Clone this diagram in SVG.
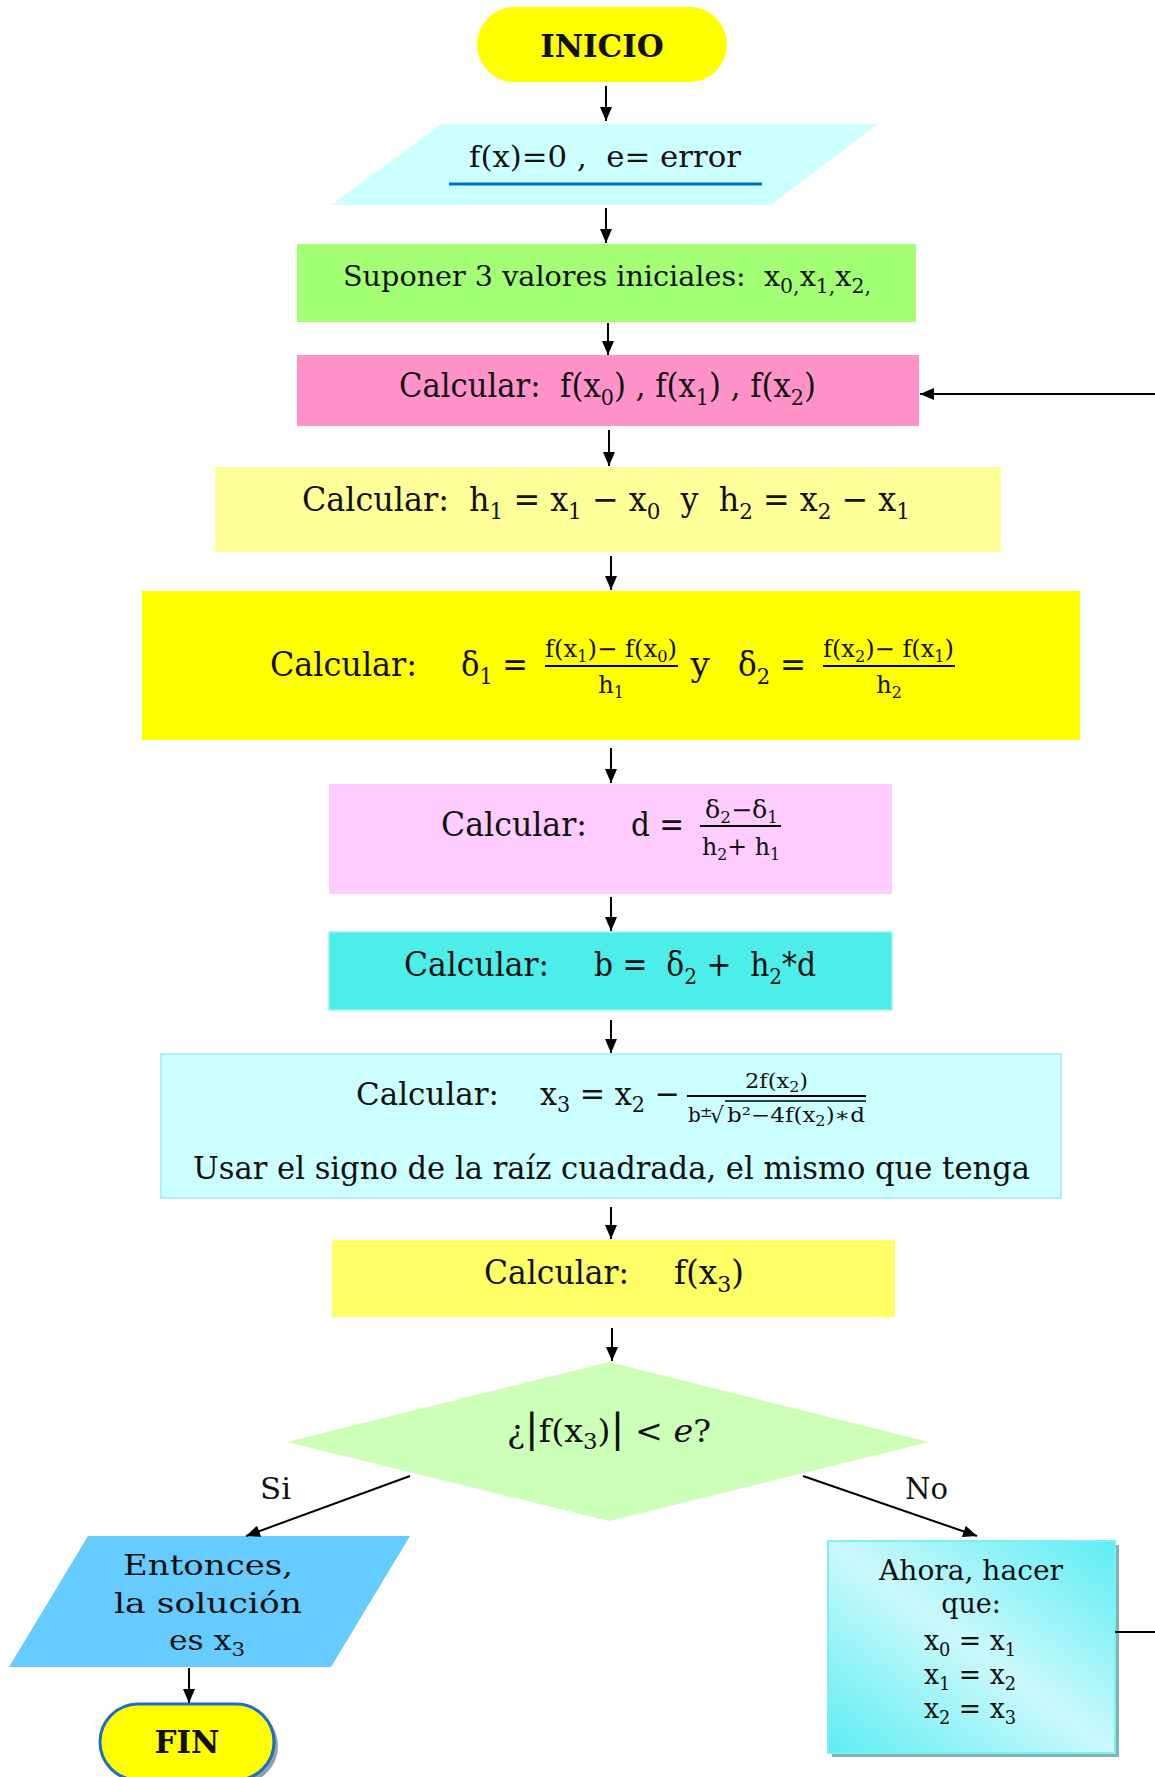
<svg xmlns="http://www.w3.org/2000/svg" width="1155" height="1777" viewBox="0 0 1155 1777">
<style>
.t{font-family:"DejaVu Serif","Liberation Serif",serif;fill:#111;}
.b{font-weight:bold;}
.conn path{stroke:#000;stroke-width:2;fill:none;marker-end:url(#ah);}
.fl{stroke:#000;stroke-width:2;}
</style>
<defs>
<marker id="ah" viewBox="0 0 14 12" refX="14" refY="6" markerWidth="14" markerHeight="12" orient="auto" markerUnits="userSpaceOnUse"><path d="M0,0 L14,6 L0,12 z" fill="#000"/></marker>
<linearGradient id="gA" x1="0" y1="1" x2="1" y2="0"><stop offset="0" stop-color="#5cedf3"/><stop offset="0.5" stop-color="#cbf9fb"/><stop offset="1" stop-color="#5cedf3"/></linearGradient>
</defs>
<rect width="1155" height="1777" fill="#fff"/>

<g id="inicio">
<rect x="477" y="7" width="250" height="75" rx="37.5" fill="#ffff00"/>
<text class="t b" x="602" y="57" font-size="31" text-anchor="middle">INICIO</text>
</g>

<g id="entrada">
<polygon points="442,124 878,124 771,205 331,205" fill="#ccffff"/>
<text class="t" x="469" y="167" font-size="30" textLength="272" lengthAdjust="spacingAndGlyphs">f(x)=0 ,&#160; e= error</text>
<line x1="449" y1="184" x2="762" y2="184" stroke="#0070c0" stroke-width="3"/>
</g>

<g id="suponer">
<rect x="297" y="244" width="619" height="78" fill="#a3ff73"/>
<text class="t" x="343" y="286" font-size="28" textLength="528" lengthAdjust="spacingAndGlyphs">Suponer 3 valores iniciales:&#160; x<tspan dy="7" font-size="20">0,</tspan><tspan dy="-7">x</tspan><tspan dy="7" font-size="20">1,</tspan><tspan dy="-7">x</tspan><tspan dy="7" font-size="20">2,</tspan></text>
</g>

<g id="calc-f">
<rect x="297" y="355" width="622" height="71" fill="#ff93c9"/>
<text class="t" x="399" y="397" font-size="34" textLength="417" lengthAdjust="spacingAndGlyphs">Calcular:&#160; f(x<tspan dy="8" font-size="23">0</tspan><tspan dy="-8">) , f(x</tspan><tspan dy="8" font-size="23">1</tspan><tspan dy="-8">) , f(x</tspan><tspan dy="8" font-size="23">2</tspan><tspan dy="-8">)</tspan></text>
</g>

<g id="calc-h">
<rect x="215" y="467" width="786" height="85" fill="#ffff99"/>
<text class="t" x="302" y="511" font-size="34" textLength="608" lengthAdjust="spacingAndGlyphs">Calcular:&#160; h<tspan dy="8" font-size="23">1</tspan><tspan dy="-8"> = x</tspan><tspan dy="8" font-size="23">1</tspan><tspan dy="-8"> − x</tspan><tspan dy="8" font-size="23">0</tspan><tspan dy="-8">&#160; y&#160; h</tspan><tspan dy="8" font-size="23">2</tspan><tspan dy="-8"> = x</tspan><tspan dy="8" font-size="23">2</tspan><tspan dy="-8"> − x</tspan><tspan dy="8" font-size="23">1</tspan></text>
</g>

<g id="calc-delta">
<rect x="142" y="591" width="938" height="149" fill="#ffff00"/>
<text class="t" x="270" y="676" font-size="34" textLength="147" lengthAdjust="spacingAndGlyphs">Calcular:</text>
<text class="t" x="461" y="676" font-size="34" textLength="67" lengthAdjust="spacingAndGlyphs">δ<tspan dy="8" font-size="23">1</tspan><tspan dy="-8"> =</tspan></text>
<text class="t" x="545" y="657" font-size="24" textLength="132" lengthAdjust="spacingAndGlyphs">f(x<tspan dy="5" font-size="16">1</tspan><tspan dy="-5">)− f(x</tspan><tspan dy="5" font-size="16">0</tspan><tspan dy="-5">)</tspan></text>
<line class="fl" x1="545" y1="666" x2="678" y2="666"/>
<text class="t" x="611" y="693" font-size="24" text-anchor="middle">h<tspan dy="5" font-size="16">1</tspan></text>
<text class="t" x="700" y="676" font-size="34" text-anchor="middle">y</text>
<text class="t" x="738" y="676" font-size="34" textLength="68" lengthAdjust="spacingAndGlyphs">δ<tspan dy="8" font-size="23">2</tspan><tspan dy="-8"> =</tspan></text>
<text class="t" x="823" y="657" font-size="24" textLength="131" lengthAdjust="spacingAndGlyphs">f(x<tspan dy="5" font-size="16">2</tspan><tspan dy="-5">)− f(x</tspan><tspan dy="5" font-size="16">1</tspan><tspan dy="-5">)</tspan></text>
<line class="fl" x1="823" y1="666" x2="955" y2="666"/>
<text class="t" x="889" y="693" font-size="24" text-anchor="middle">h<tspan dy="5" font-size="16">2</tspan></text>
</g>

<g id="calc-d">
<rect x="329" y="784" width="563" height="110" fill="#ffccff"/>
<text class="t" x="441" y="836" font-size="34" textLength="146" lengthAdjust="spacingAndGlyphs">Calcular:</text>
<text class="t" x="631" y="836" font-size="34" textLength="53" lengthAdjust="spacingAndGlyphs">d =</text>
<text class="t" x="705" y="818" font-size="24" textLength="73" lengthAdjust="spacingAndGlyphs">δ<tspan dy="5" font-size="16">2</tspan><tspan dy="-5">−δ</tspan><tspan dy="5" font-size="16">1</tspan></text>
<line class="fl" x1="700" y1="826" x2="781" y2="826"/>
<text class="t" x="702" y="855" font-size="24" textLength="78" lengthAdjust="spacingAndGlyphs">h<tspan dy="5" font-size="16">2</tspan><tspan dy="-5">+ h</tspan><tspan dy="5" font-size="16">1</tspan></text>
</g>

<g id="calc-b">
<rect x="329" y="932" width="563" height="78" fill="#4deeea" stroke="#9ff2f5" stroke-width="1.5"/>
<text class="t" x="404" y="976" font-size="34" textLength="145" lengthAdjust="spacingAndGlyphs">Calcular:</text>
<text class="t" x="594" y="976" font-size="34" textLength="222" lengthAdjust="spacingAndGlyphs">b =&#160; δ<tspan dy="8" font-size="23">2</tspan><tspan dy="-8"> +&#160; h</tspan><tspan dy="8" font-size="23">2</tspan><tspan dy="-8">*d</tspan></text>
</g>

<g id="calc-x3">
<rect x="161" y="1054" width="900" height="144" fill="#ccffff" stroke="#b5eef8" stroke-width="2"/>
<text class="t" x="356" y="1105" font-size="32" textLength="143" lengthAdjust="spacingAndGlyphs">Calcular:</text>
<text class="t" x="540" y="1105" font-size="32" textLength="140" lengthAdjust="spacingAndGlyphs">x<tspan dy="7" font-size="22">3</tspan><tspan dy="-7"> = x</tspan><tspan dy="7" font-size="22">2</tspan><tspan dy="-7"> −</tspan></text>
<text class="t" x="745" y="1088" font-size="20" textLength="63" lengthAdjust="spacingAndGlyphs">2f(x<tspan dy="4" font-size="14">2</tspan><tspan dy="-4">)</tspan></text>
<line class="fl" x1="687" y1="1096" x2="866" y2="1096"/>
<text class="t" x="688" y="1122" font-size="20">b</text>
<text class="t" x="700" y="1117" font-size="15">±</text>
<text class="t" x="710" y="1123" font-size="22">√</text>
<line x1="725" y1="1101" x2="866" y2="1101" stroke="#000" stroke-width="1.5"/>
<text class="t" x="727" y="1122" font-size="20" textLength="138" lengthAdjust="spacingAndGlyphs">b²−4f(x<tspan dy="4" font-size="14">2</tspan><tspan dy="-4">)∗d</tspan></text>
<text class="t" x="193" y="1179" font-size="32" textLength="837" lengthAdjust="spacingAndGlyphs">Usar el signo de la raíz cuadrada, el mismo que tenga</text>
</g>

<g id="calc-fx3">
<rect x="332" y="1240" width="563" height="77" fill="#ffff66"/>
<text class="t" x="484" y="1284" font-size="34" textLength="145" lengthAdjust="spacingAndGlyphs">Calcular:</text>
<text class="t" x="674" y="1284" font-size="34" textLength="70" lengthAdjust="spacingAndGlyphs">f(x<tspan dy="8" font-size="23">3</tspan><tspan dy="-8">)</tspan></text>
</g>

<g id="decision">
<polygon points="609,1362 929,1442 609,1521 287,1442" fill="#ccffb8"/>
<text class="t" x="507" y="1442" font-size="32" textLength="204" lengthAdjust="spacingAndGlyphs">¿<tspan font-size="40">|</tspan>f(x<tspan dy="7" font-size="22">3</tspan><tspan dy="-7">)</tspan><tspan font-size="40">|</tspan> &lt; <tspan font-style="italic">e</tspan>?</text>
<text class="t" x="260" y="1499" font-size="30" textLength="31" lengthAdjust="spacingAndGlyphs">Si</text>
<text class="t" x="905" y="1499" font-size="30" textLength="43" lengthAdjust="spacingAndGlyphs">No</text>
</g>

<g id="solucion">
<polygon points="88,1536 410,1536 331,1667 9,1667" fill="#66ccff"/>
<text class="t" x="123" y="1575" font-size="28" textLength="170" lengthAdjust="spacingAndGlyphs">Entonces,</text>
<text class="t" x="114" y="1613" font-size="28" textLength="188" lengthAdjust="spacingAndGlyphs">la solución</text>
<text class="t" x="169" y="1650" font-size="28" textLength="76" lengthAdjust="spacingAndGlyphs">es x<tspan dy="6" font-size="19">3</tspan></text>
</g>

<g id="fin">
<rect x="104" y="1708" width="174" height="76" rx="38" fill="#8fa3a8"/>
<rect x="100" y="1704" width="174" height="76" rx="38" fill="#ffff00" stroke="#1e6ec8" stroke-width="3"/>
<text class="t b" x="187" y="1753" font-size="31" text-anchor="middle">FIN</text>
</g>

<g id="actualizar">
<rect x="832" y="1545" width="287" height="212" fill="#7fb3b5"/>
<rect x="828" y="1541" width="287" height="212" fill="url(#gA)" stroke="#7eeef4" stroke-width="2"/>
<text class="t" x="879" y="1580" font-size="27" textLength="184" lengthAdjust="spacingAndGlyphs">Ahora, hacer</text>
<text class="t" x="971" y="1613" font-size="27" text-anchor="middle">que:</text>
<text class="t" x="924" y="1650" font-size="27" textLength="92" lengthAdjust="spacingAndGlyphs">x<tspan dy="6" font-size="18">0</tspan><tspan dy="-6"> = x</tspan><tspan dy="6" font-size="18">1</tspan></text>
<text class="t" x="924" y="1684" font-size="27" textLength="92" lengthAdjust="spacingAndGlyphs">x<tspan dy="6" font-size="18">1</tspan><tspan dy="-6"> = x</tspan><tspan dy="6" font-size="18">2</tspan></text>
<text class="t" x="924" y="1718" font-size="27" textLength="92" lengthAdjust="spacingAndGlyphs">x<tspan dy="6" font-size="18">2</tspan><tspan dy="-6"> = x</tspan><tspan dy="6" font-size="18">3</tspan></text>
</g>

<g id="connectors" class="conn">
<path d="M606,86 V121"/>
<path d="M606,208 V243"/>
<path d="M608,323 V355"/>
<path d="M609,430 V466"/>
<path d="M611,556 V590"/>
<path d="M611,748 V783"/>
<path d="M611,897 V931"/>
<path d="M611,1020 V1053"/>
<path d="M611,1207 V1239"/>
<path d="M612,1328 V1361"/>
<path d="M410,1476 L246,1536"/>
<path d="M803,1476 L977,1536"/>
<path d="M189,1668 V1703"/>
<path d="M1115,1632 H1172 V394 H920"/>
</g>
</svg>
